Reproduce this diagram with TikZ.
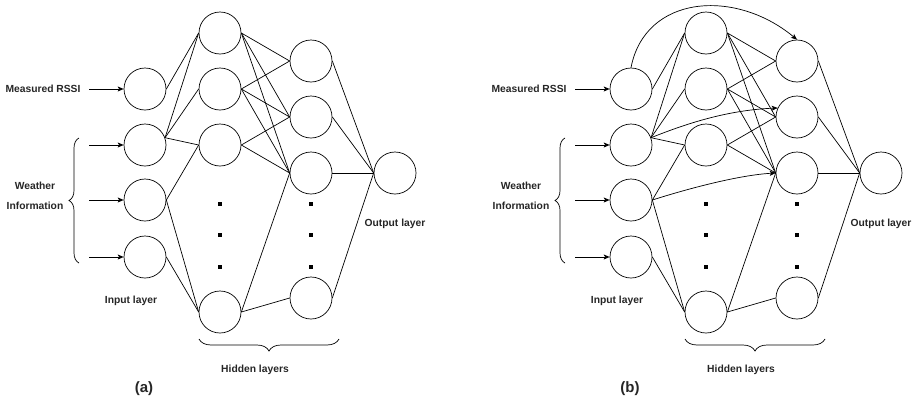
\documentclass[tikz,border=0pt]{standalone}
\usepackage{fontspec}
\setmainfont{Liberation Sans}
\usetikzlibrary{arrows.meta,decorations.pathreplacing}

\begin{document}
\begin{tikzpicture}[x=1pt,y=1pt,line width=0.7pt]
                \tikzstyle{every node}+=[inner sep=0pt]
                \tikzstyle{neuron}=[draw=black, circle, minimum size=42pt]
                \tikzstyle{vdot}=[fill=black, rectangle, minimum size=3.4pt]
                \tikzstyle{lbl}=[font=\bfseries\fontsize{10.3}{12.4}\selectfont, text=black!85]
                \tikzstyle{capt}=[font=\bfseries\fontsize{15}{18}\selectfont, text=black!85]
                \tikzstyle{arr}=[-{Stealth[length=6pt,width=5pt,inset=1.5pt]}]
                \tikzstyle{brc}=[decorate, decoration={brace, amplitude=10pt}]
                \useasboundingbox (0,0) rectangle (915,-402);
                % (a)
                \node [neuron] (ai1) at (145,-89) {};
                \node [neuron] (ai2) at (145,-145) {};
                \node [neuron] (ai3) at (145,-200) {};
                \node [neuron] (ai4) at (145,-257) {};
                \node [neuron] (ah11) at (220,-33) {};
                \node [neuron] (ah12) at (220,-89) {};
                \node [neuron] (ah13) at (220,-145) {};
                \node [neuron] (ah14) at (220,-312) {};
                \node [neuron] (ah21) at (311,-61) {};
                \node [neuron] (ah22) at (311,-117) {};
                \node [neuron] (ah23) at (311,-173) {};
                \node [neuron] (ah24) at (311,-298) {};
                \node [neuron] (ao) at (395,-173) {};
                \node [vdot] (ad11) at (220,-204) {};
                \node [vdot] (ad12) at (220,-235) {};
                \node [vdot] (ad13) at (220,-267) {};
                \node [vdot] (ad21) at (311,-204) {};
                \node [vdot] (ad22) at (311,-235) {};
                \node [vdot] (ad23) at (311,-267) {};
                \node [lbl] (arssi) at (43,-89) {Measured RSSI};
                \node [lbl, align=center] (aweather) at (35,-196) {Weather\\[8pt]Information};
                \node [lbl] (ainput) at (131,-301) {Input layer};
                \node [lbl] (ahidden) at (255,-370) {Hidden layers};
                \node [lbl] (aoutput) at (395,-224) {Output layer};
                \node [capt] (acap) at (144,-389) {(a)};
                \coordinate (aa1) at (89,-89);
                \coordinate (aa2) at (89,-145);
                \coordinate (aa3) at (89,-200);
                \coordinate (aa4) at (89,-257);
                \draw [arr] (aa1) -- (ai1.west);
                \draw [arr] (aa2) -- (ai2.west);
                \draw [arr] (aa3) -- (ai3.west);
                \draw [arr] (aa4) -- (ai4.west);
                \draw [brc] (79,-263) -- (79,-138);
                \draw [brc, decoration={amplitude=12pt}] (339,-339) -- (199,-339);
                \draw [black] (ai1.east) -- (ah11.west);
                \draw [black] (ai2.20) -- (ah11.west);
                \draw [black] (ai2.20) -- (ah12.west);
                \draw [black] (ai2.20) -- (ah13.west);
                \draw [black] (ai3.east) -- (ah13.west);
                \draw [black] (ai3.east) -- (ah14.west);
                \draw [black] (ai4.east) -- (ah14.west);
                \draw [black] (ah11.east) -- (ah21.west);
                \draw [black] (ah11.east) -- (ah22.west);
                \draw [black] (ah11.east) -- (ah23.west);
                \draw [black] (ah12.east) -- (ah21.west);
                \draw [black] (ah12.east) -- (ah22.west);
                \draw [black] (ah12.east) -- (ah23.west);
                \draw [black] (ah13.east) -- (ah22.west);
                \draw [black] (ah13.east) -- (ah23.west);
                \draw [black] (ah14.east) -- (ah23.west);
                \draw [black] (ah14.east) -- (ah24.west);
                \draw [black] (ah21.east) -- (ao.west);
                \draw [black] (ah22.east) -- (ao.west);
                \draw [black] (ah23.east) -- (ao.west);
                \draw [black] (ah24.east) -- (ao.west);
                % (b)
                \node [neuron] (bi1) at (631,-89) {};
                \node [neuron] (bi2) at (631,-145) {};
                \node [neuron] (bi3) at (631,-200) {};
                \node [neuron] (bi4) at (631,-257) {};
                \node [neuron] (bh11) at (706,-33) {};
                \node [neuron] (bh12) at (706,-89) {};
                \node [neuron] (bh13) at (706,-145) {};
                \node [neuron] (bh14) at (706,-312) {};
                \node [neuron] (bh21) at (797,-61) {};
                \node [neuron] (bh22) at (797,-117) {};
                \node [neuron] (bh23) at (797,-173) {};
                \node [neuron] (bh24) at (797,-298) {};
                \node [neuron] (bo) at (881,-173) {};
                \node [vdot] (bd11) at (706,-204) {};
                \node [vdot] (bd12) at (706,-235) {};
                \node [vdot] (bd13) at (706,-267) {};
                \node [vdot] (bd21) at (797,-204) {};
                \node [vdot] (bd22) at (797,-235) {};
                \node [vdot] (bd23) at (797,-267) {};
                \node [lbl] (brssi) at (529,-89) {Measured RSSI};
                \node [lbl, align=center] (bweather) at (521,-196) {Weather\\[8pt]Information};
                \node [lbl] (binput) at (617,-301) {Input layer};
                \node [lbl] (bhidden) at (741,-370) {Hidden layers};
                \node [lbl] (boutput) at (881,-224) {Output layer};
                \node [capt] (bcap) at (630,-389) {(b)};
                \coordinate (ba1) at (575,-89);
                \coordinate (ba2) at (575,-145);
                \coordinate (ba3) at (575,-200);
                \coordinate (ba4) at (575,-257);
                \draw [arr] (ba1) -- (bi1.west);
                \draw [arr] (ba2) -- (bi2.west);
                \draw [arr] (ba3) -- (bi3.west);
                \draw [arr] (ba4) -- (bi4.west);
                \draw [brc] (565,-263) -- (565,-138);
                \draw [brc, decoration={amplitude=12pt}] (825,-339) -- (685,-339);
                \draw [black] (bi1.east) -- (bh11.west);
                \draw [black] (bi2.20) -- (bh11.west);
                \draw [black] (bi2.20) -- (bh12.west);
                \draw [black] (bi2.20) -- (bh13.west);
                \draw [black] (bi3.east) -- (bh13.west);
                \draw [black] (bi3.east) -- (bh14.west);
                \draw [black] (bi4.east) -- (bh14.west);
                \draw [black] (bh11.east) -- (bh21.west);
                \draw [black] (bh11.east) -- (bh22.west);
                \draw [black] (bh11.east) -- (bh23.west);
                \draw [black] (bh12.east) -- (bh21.west);
                \draw [black] (bh12.east) -- (bh22.west);
                \draw [black] (bh12.east) -- (bh23.west);
                \draw [black] (bh13.east) -- (bh22.west);
                \draw [black] (bh13.east) -- (bh23.west);
                \draw [black] (bh14.east) -- (bh23.west);
                \draw [black] (bh14.east) -- (bh24.west);
                \draw [black] (bh21.east) -- (bo.west);
                \draw [black] (bh22.east) -- (bo.west);
                \draw [black] (bh23.east) -- (bo.west);
                \draw [black] (bh24.east) -- (bo.west);
                % skip connections
                \draw [arr] (bi1.north) .. controls (645,5) and (735,12) .. (bh21.north);
                \draw [arr] (bi2.20) .. controls (690,-122) and (730,-110) .. (bh22.155);
                \draw [arr] (bi3.east) .. controls (690,-188) and (740,-175) .. (bh23.west);
\end{tikzpicture}
\end{document}
